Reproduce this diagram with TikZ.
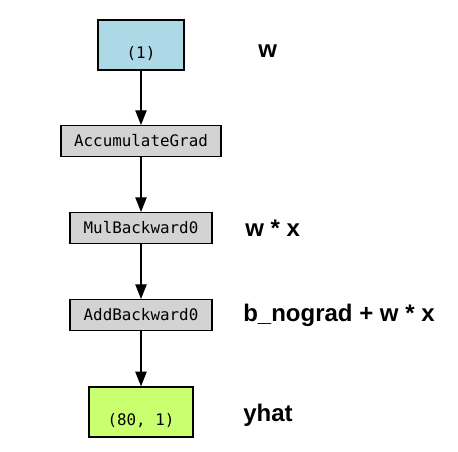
\documentclass[tikz,border=0pt]{standalone}
\usepackage{fontspec}
\setmainfont{Liberation Sans}
\newfontfamily\gvmono{DejaVu Sans Mono}
\usetikzlibrary{arrows.meta}
\definecolor{paramblue}{RGB}{173,216,230}
\definecolor{fngrey}{RGB}{211,211,211}
\definecolor{outgreen}{RGB}{202,255,112}
\begin{document}
\begin{tikzpicture}[x=0.75pt,y=-0.75pt,
    gradnode/.style={draw,line width=1pt,fill=fngrey,inner sep=0pt,
      font=\gvmono\fontsize{11.9}{14}\selectfont,minimum height=23pt},
    tensornode/.style={gradnode,minimum height=37.5pt,text height=22pt,text depth=1.5pt},
    varlabel/.style={anchor=base west,inner sep=0pt,font=\bfseries\fontsize{18}{22}\selectfont}]
  \useasboundingbox (0,0) rectangle (458,452);
  \node[tensornode,fill=paramblue,minimum width=64.5pt] (w) at (141,45) {(1)};
  \node[gradnode,minimum width=120pt] (acc) at (141,141) {AccumulateGrad};
  \node[gradnode,minimum width=106.5pt] (mul) at (141,228) {MulBackward0};
  \node[gradnode,minimum width=106.5pt] (add) at (141,315) {AddBackward0};
  \node[tensornode,fill=outgreen,minimum width=78pt] (yhat) at (141,412) {(80, 1)};
  \node[varlabel] (wname) at (258,58) {w};
  \node[varlabel] (mulname) at (245,237) {w * x};
  \node[varlabel] (addname) at (243,322) {b\_nograd + w * x};
  \node[varlabel] (yhatname) at (243,422) {yhat};
  \begin{scope}[-{Triangle[length=11pt,width=8.5pt]},line width=1pt]
    \draw (w) to (acc);
    \draw (acc) to (mul);
    \draw (mul) to (add);
    \draw (add) to (yhat);
  \end{scope}
\end{tikzpicture}
\end{document}
